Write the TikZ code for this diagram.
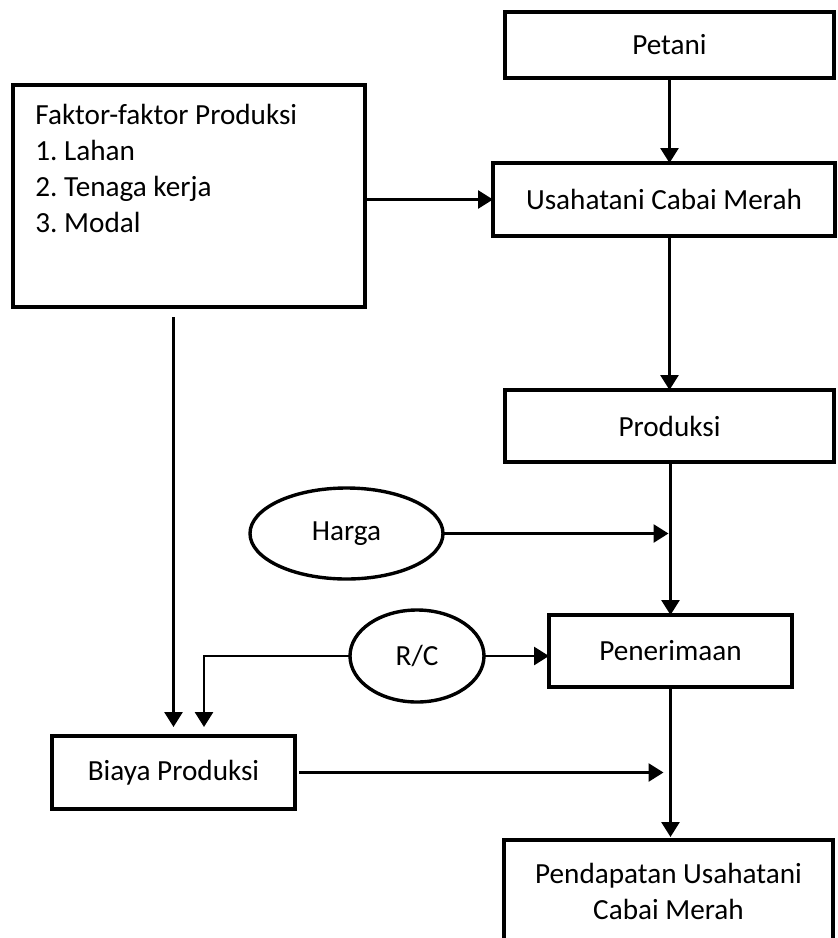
\documentclass[tikz,border=0pt]{standalone}
\usepackage{fontspec}
\setmainfont{Carlito}
\frenchspacing
\usetikzlibrary{arrows.meta,shapes.geometric}

\begin{document}
\begin{tikzpicture}[x=0.5pt, y=-0.5pt,
  every node/.style={font=\fontsize{14.6}{18}\selectfont},
  box/.style={draw, line width=2pt, inner sep=0pt, outer sep=0pt},
  oval/.style={draw, ellipse, line width=1.7pt, inner sep=0pt, outer sep=0pt},
  arr/.style={line width=1.4pt, -{Triangle[length=7.5pt,width=9pt]}}]
  \useasboundingbox (0,0) rectangle (837,938);
  \node[box, minimum width=164.5pt, minimum height=33pt] (petani) at (669.5,45) {Petani};
  \node[box, minimum width=171pt, minimum height=36.5pt] (usaha) at (664,199.5) {Usahatani Cabai Merah};
  \node[box, minimum width=176pt, minimum height=111pt] (faktor) at (189,196) {};
  \node[anchor=north west, align=left, inner sep=0pt] (faktortxt) at (35,104)
    {Faktor-faktor Produksi\\1. Lahan\\2. Tenaga kerja\\3. Modal};
  \node[box, minimum width=164.5pt, minimum height=36pt] (produksi) at (669.5,426) {Produksi};
  \node[oval, minimum width=96.5pt, minimum height=45.5pt] (harga) at (346.5,533.5) {Harga};
  \node[box, minimum width=121.5pt, minimum height=36pt] (penerimaan) at (670.5,651) {Penerimaan};
  \node[oval, minimum width=67pt, minimum height=46pt] (rc) at (417,656) {R/C};
  \node[box, minimum width=121.5pt, minimum height=36.5pt] (biaya) at (173.5,772.5) {Biaya Produksi};
  \node[box, minimum width=164.5pt, minimum height=51pt, align=center] (pendapatan) at (668.5,891)
    {Pendapatan Usahatani\\Cabai Merah};
  % arus utama
  \draw[arr] (petani) -- (petani |- usaha.north);
  \draw[arr] (faktor.east |- usaha) -- (usaha.west);
  \draw[arr] (produksi |- usaha.south) -- (produksi.north);
  \draw[arr] (penerimaan.north |- produksi.south) -- (penerimaan.north);
  \coordinate (hargajoin) at (penerimaan.north |- harga.east);
  \draw[arr, shorten >=1pt] (harga.east) -- (hargajoin);
  \draw[arr] (rc.east) -- (rc.east -| penerimaan.west);
  \draw[arr, shorten >=1.5pt] (penerimaan.south) -- (penerimaan.south |- pendapatan.north);
  % biaya
  \draw[arr, shorten >=4.5pt] (rc.west) -| ([xshift=15.25pt]biaya.north);
  \draw[arr, shorten <=5pt, shorten >=4.5pt] (biaya.north |- faktor.south) -- (biaya.north);
  \coordinate (biayajoin) at (penerimaan.south |- biaya.east);
  \draw[arr, shorten <=2pt, shorten >=3.5pt] (biaya.east) -- (biayajoin);
\end{tikzpicture}
\end{document}
